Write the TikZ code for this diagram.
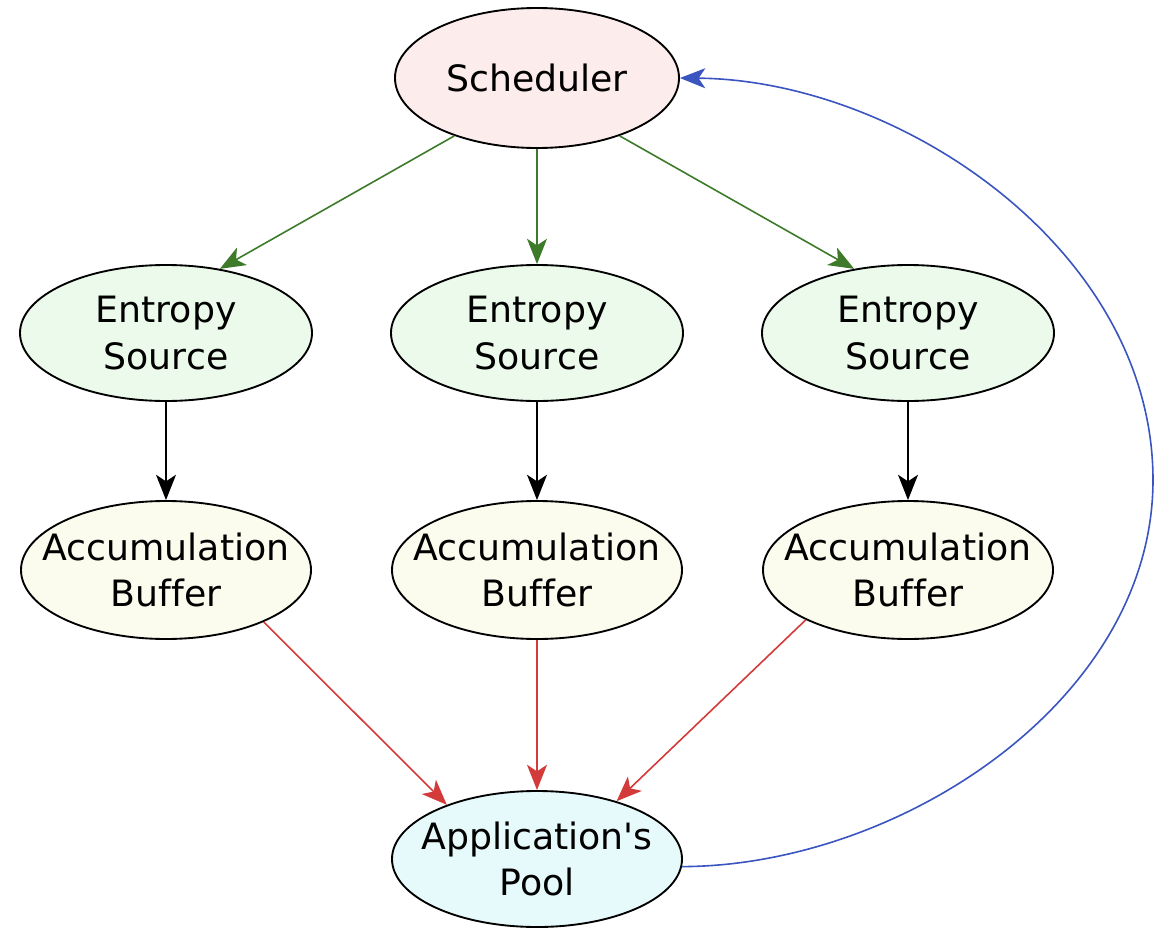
\documentclass[tikz,border=0pt]{standalone}
\usepackage{fontspec}
\setmainfont{DejaVu Sans}[Ligatures={NoCommon}]
\usetikzlibrary{shapes.geometric,arrows.meta}

\definecolor{schedfill}{HTML}{FDECEC}
\definecolor{srcfill}{HTML}{EBFAEB}
\definecolor{buffill}{HTML}{FBFBEE}
\definecolor{poolfill}{HTML}{E6FAFB}
\definecolor{greenedge}{HTML}{3D7A2A}
\definecolor{rededge}{HTML}{D33A3A}
\definecolor{blueedge}{HTML}{3A55C0}

\tikzset{
  blob/.style={ellipse, draw=black, line width=1.4pt, inner sep=0pt},
  words/.style={align=center, inner sep=0pt, font=\fontsize{27.2}{35}\selectfont},
  schedbox/.style={blob, fill=schedfill, minimum width=213pt, minimum height=105pt},
  srcbox/.style={blob, fill=srcfill, minimum width=219pt, minimum height=102pt},
  bufbox/.style={blob, fill=buffill, minimum width=217.5pt, minimum height=103.5pt},
  poolbox/.style={blob, fill=poolfill, minimum width=217.5pt, minimum height=102pt},
  link/.style={line width=1.2pt, -{Stealth[length=19pt, width=15pt, inset=5pt]}},
  feed/.style={link, greenedge},
  pass/.style={link, black},
  drain/.style={link, rededge},
  back/.style={link, blueedge},
}

\begin{document}
\begin{tikzpicture}[x=0.75pt, y=-0.75pt]
  \useasboundingbox (0,0) rectangle (1165,928);

  % scheduler
  \node[schedbox, label={[words]center:Scheduler}] (sched) at (537,78) {};

  % entropy sources
  \node[srcbox, label={[words]center:{Entropy\\Source}}] (es1) at (166,333) {};
  \node[srcbox, label={[words]center:{Entropy\\Source}}] (es2) at (537,333) {};
  \node[srcbox, label={[words]center:{Entropy\\Source}}] (es3) at (908,333) {};

  % accumulation buffers
  \node[bufbox, label={[words]center:{Accumulation\\Buffer}}] (ab1) at (166,570) {};
  \node[bufbox, label={[words]center:{Accumulation\\Buffer}}] (ab2) at (537,570) {};
  \node[bufbox, label={[words]center:{Accumulation\\Buffer}}] (ab3) at (908,570) {};

  % application pool
  \node[poolbox, label={[words]center:{Application\textquotesingle s\\Pool}}] (pool) at (537,859) {};

  % scheduler drives the sources
  \draw[feed] (sched.215) -- (es1.50);
  \draw[feed] (sched.south) -- (es2.north);
  \draw[feed] (sched.325) -- (es3.130);

  % sources fill their buffers
  \draw[pass] (es1.south) -- (ab1.north);
  \draw[pass] (es2.south) -- (ab2.north);
  \draw[pass] (es3.south) -- (ab3.north);

  % buffers feed the pool
  \draw[drain] (ab1.332) -- (pool.149);
  \draw[drain] (ab2.south) -- (pool.north);
  \draw[drain] (ab3.206) -- (pool.36);

  % feedback from the pool to the scheduler
  \coordinate (bend) at (1153,480);
  \draw[back] (pool.-3) .. controls (900,866) and (1153,700) .. (bend)
                        .. controls (1153,250) and (900,80) .. (sched.east);
\end{tikzpicture}
\end{document}
